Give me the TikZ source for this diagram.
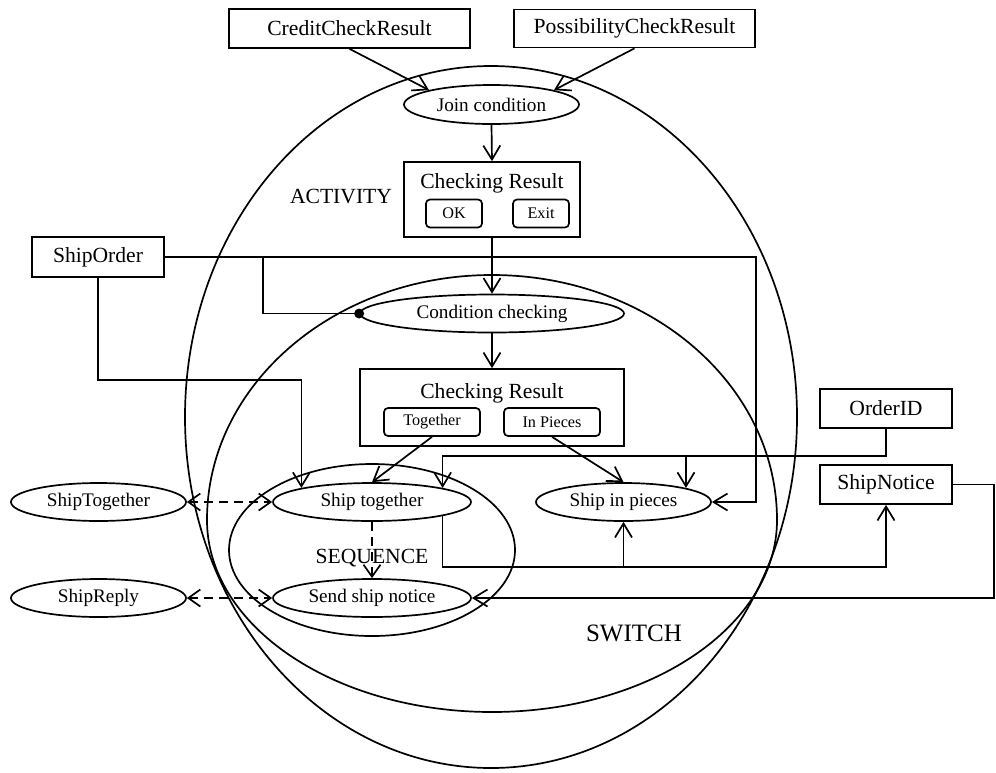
\documentclass[tikz,border=0pt]{standalone}
\usepackage{fontspec}
\setmainfont{Liberation Serif}
\usetikzlibrary{arrows.meta,shapes.geometric,calc}

\begin{document}
\begin{tikzpicture}[x=1pt,y=-1pt,line width=1.7pt,
  box/.style={draw,rectangle,inner sep=0pt,font=\fontsize{21.6}{24}\selectfont},
  oval/.style={draw,ellipse,inner sep=0pt,minimum height=38pt,font=\fontsize{19.2}{22}\selectfont},
  btn/.style={draw,rectangle,rounded corners=4pt,inner sep=0pt,minimum width=56pt,minimum height=28pt,font=\fontsize{16.2}{18}\selectfont},
  lbl/.style={anchor=base,inner sep=0pt,font=\fontsize{21.6}{24}\selectfont},
  arr/.style={-{Straight Barb[length=14pt,width=17pt]}},
  darr/.style={dash pattern=on 9pt off 6pt},
  dtip/.style={{Straight Barb[length=12pt,width=17pt]}-{Straight Barb[length=12pt,width=17pt]}}
]
\useasboundingbox (0,0) rectangle (996,772);

% region outlines
\draw (491,417) ellipse [x radius=306pt, y radius=351pt];
\draw (207,520) arc[start angle=180,end angle=0,x radius=285pt,y radius=245pt]
                arc[start angle=0,end angle=-180,x radius=285pt,y radius=192pt];
\draw (372,550) ellipse [x radius=143pt, y radius=86pt];

\node[lbl] (lact) at (341,203) {ACTIVITY};
\node[lbl] (lseq) at (372,563) {SEQUENCE};
\node[lbl,font=\fontsize{25}{28}\selectfont] (lsw) at (634,641) {SWITCH};

% message boxes
\node[box,minimum width=241pt,minimum height=39pt] (ccr) at (349.5,28.5) {CreditCheckResult};
\node[box,minimum width=241pt,minimum height=38pt] (pcr) at (634.5,28.5) {PossibilityCheckResult};
\node[box,minimum width=132pt,minimum height=40pt] (so) at (98,257) {ShipOrder};
\node[box,minimum width=132pt,minimum height=39pt] (oid) at (886,408.5) {OrderID};
\node[box,minimum width=132pt,minimum height=39pt] (sn) at (886,484.5) {ShipNotice};

% activities
\node[oval,minimum width=175pt,minimum height=39pt] (join) at (491.5,104.5) {Join condition};
\node[oval,minimum width=264pt] (cond) at (492,313.5) {Condition checking};
\node[oval,minimum width=198pt] (st) at (372,502) {Ship together};
\node[oval,minimum width=175pt] (sip) at (623.5,502) {Ship in pieces};
\node[oval,minimum width=198pt] (ssn) at (372,598) {Send ship notice};
\node[oval,minimum width=175pt] (stg) at (98.5,502) {ShipTogether};
\node[oval,minimum width=175pt] (srp) at (98.5,598) {ShipReply};

% checking result boxes with their outcomes
\node[box,minimum width=176pt,minimum height=75pt] (cr1) at (492,199.5) {};
\node[lbl] (cr1t) at (492,188) {Checking Result};
\node[btn] (ok) at (454,213.5) {OK};
\node[btn] (ex) at (541,213.5) {Exit};

\node[box,minimum width=264pt,minimum height=77pt] (cr2) at (492,407.5) {};
\node[lbl] (cr2t) at (492,398) {Checking Result};
\node[btn,minimum width=96pt] (tog) at (432,422) {Together};
\node[btn,minimum width=96pt] (inp) at (552,422) {In Pieces};

% control flow
\draw[arr] (ccr.south) -- (join.north west);
\draw[arr] (pcr.south) -- (join.north east);
\draw[arr] (join.south) -- (cr1.north);
\draw[arr] (cr1.south) -- (cond.north);
\draw[arr] (cond.south) -- (cr2.north);
\draw[arr] (tog.south) -- (st.north);
\draw[arr] (inp.south) -- (sip.north);

% data flow
\draw[arr] (so.east) -| ([xshift=44pt]sip.east) -- (sip.east);
\draw ([xshift=98pt]so.east) |- (cond.west);
\fill (cond.west) circle[radius=5pt];
\draw[arr] (so.south) -- ++(0,102) -| (st.north west);
\draw[arr] (oid.south) -- ++(0,27) coordinate (oj) -| (st.north east);
\draw[arr] (oj -| sip.north east) -- (sip.north east);
\draw[arr] (st.south east) -- ++(0,51) coordinate (sj) -| (sn.south);
\draw[arr] (sj -| sip.south) -- (sip.south);
\draw[arr] (sn.east) -- ++(41,0) |- (ssn.east);

% message exchange
\draw[darr,dtip] (stg.east) -- (st.west);
\draw[darr,dtip] (srp.east) -- (ssn.west);
\draw[darr,-{Straight Barb[length=12pt,width=17pt]}] (st.south) -- (ssn.north);
\end{tikzpicture}
\end{document}
